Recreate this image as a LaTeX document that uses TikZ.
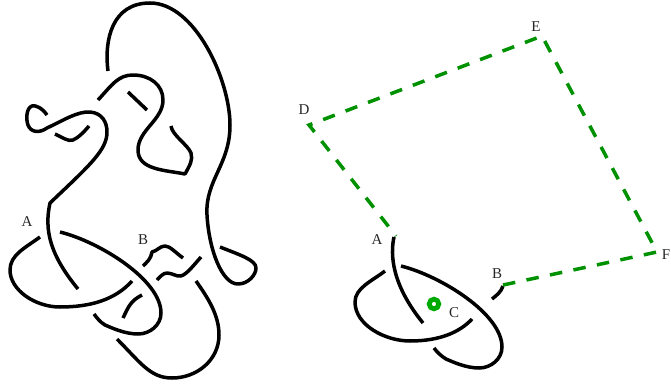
\documentclass[tikz,border=0pt]{standalone}
\usepackage{fontspec}
\setmainfont{Liberation Serif}
\definecolor{arcgreen}{RGB}{0,145,0}
\definecolor{ringgreen}{RGB}{0,170,0}
\tikzset{
  strand/.style={line width=3.5pt, line join=round, black},
  arc/.style={line width=3.5pt, arcgreen, dash pattern=on 12.5pt off 11.5pt},
  lbl/.style={font=\fontsize{15pt}{17pt}\selectfont, inner sep=0pt, text=black!85}
}
\begin{document}
\begin{tikzpicture}[x=1pt, y=-1pt]
\useasboundingbox (0,0) rectangle (671,385);
% left knot
\draw[strand] (108,71) .. controls (104,40) and (112,3) .. (150,3) .. controls (195,3) and (230,80) .. (230,125) .. controls (230,165) and (205,180) .. (207,215) .. controls (209,250) and (222,284) .. (238,284) .. controls (248,284) and (256,275) .. (256,268) .. controls (256,260) and (240,255) .. (220,247);
\draw[strand] (98,100) .. controls (112,85) and (118,75) .. (133,75) .. controls (150,75) and (163,85) .. (163,100) .. controls (163,120) and (138,130) .. (138,150) .. controls (138,170) and (165,170) .. (185,174) .. controls (190,165) and (193,160) .. (191,153) .. controls (188,145) and (172,135) .. (171,126);
\draw[strand] (128,92) -- (147,110);
\draw[strand] (47,115) .. controls (42,108) and (36,105) .. (32,106) .. controls (26,108) and (26,120) .. (28,125) .. controls (31,133) and (40,133) .. (47,128) .. controls (62,121) and (78,111) .. (90,112) .. controls (102,113) and (107,122) .. (107,132) .. controls (107,150) and (90,165) .. (50,203) .. controls (44,230) and (50,255) .. (78,289);
\draw[strand] (55,134) .. controls (62,137) and (68,142) .. (73,140) .. controls (78,138) and (84,132) .. (89,126);
\draw[strand] (40,237) .. controls (25,248) and (10,255) .. (10,270) .. controls (10,290) and (35,307) .. (60,307) .. controls (90,307) and (115,300) .. (132,281);
\draw[strand] (60,232) .. controls (100,242) and (161,280) .. (161,313) .. controls (161,325) and (150,334) .. (138,334) .. controls (125,334) and (112,328) .. (105,325) .. controls (100,322) and (97,318) .. (94,314);
\draw[strand] (142,295) .. controls (130,301) and (128,308) .. (123,318);
\draw[strand] (143,266) .. controls (147,262) and (151,259) .. (152,252) .. controls (157,251) and (160,246) .. (165,246) .. controls (170,246) and (176,253) .. (183,258);
\draw[strand] (157,280) .. controls (160,277) and (163,273) .. (167,273) .. controls (172,273) and (177,277) .. (181,276) .. controls (187,274) and (193,266) .. (201,257);
\draw[strand] (196,281) .. controls (208,298) and (219,315) .. (219,335) .. controls (219,360) and (197,378) .. (172,378) .. controls (150,378) and (140,362) .. (117,339);
\node[lbl] (leftA) at (27,222) {A};
\node[lbl] (leftB) at (143,240) {B};
% right knot
\draw[strand] (394,237) .. controls (390,255) and (392,285) .. (423,323);
\draw[strand] (385,271) .. controls (372,281) and (355,288) .. (355,302) .. controls (355,325) and (385,341) .. (410,341) .. controls (440,341) and (460,332) .. (472,319);
\draw[strand] (401,266) .. controls (441,276) and (502,314) .. (502,347) .. controls (502,359) and (491,368) .. (479,368) .. controls (466,368) and (453,362) .. (446,359) .. controls (441,356) and (437,352) .. (434,348);
\draw[strand] (492,299) .. controls (497,295) and (501,292) .. (503,286);
% dashed arc
\coordinate (cornerB) at (503,285);
\coordinate (cornerF) at (657,252);
\coordinate (cornerE) at (542,36);
\coordinate (cornerD) at (309,125);
\coordinate (cornerA) at (396,236);
\draw[arc] (cornerB) -- (cornerF) -- (cornerE) -- (cornerD) -- (cornerA);
\draw[line width=4.8pt, ringgreen] (434,304) circle (4.8);
\node[lbl] (rightA) at (377,240) {A};
\node[lbl] (rightB) at (497,274) {B};
\node[lbl] (rightC) at (454,313) {C};
\node[lbl] (rightD) at (304,110) {D};
\node[lbl] (rightE) at (536,27) {E};
\node[lbl] (rightF) at (666,255) {F};
\end{tikzpicture}
\end{document}
